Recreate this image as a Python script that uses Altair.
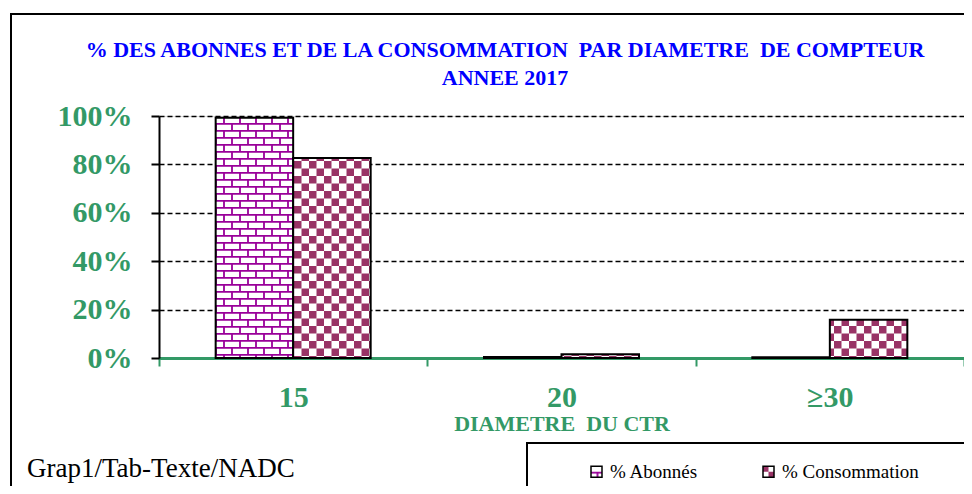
import altair as alt
import pandas as pd
import jinja2

# ---- data ----
categories = ["15", "20", "≥30"]
series = ["% Abonnés", "% Consommation"]
abonnes = [0.993, 0.004, 0.003]
consommation = [0.826, 0.016, 0.158]
title_lines = ["% DES ABONNES ET DE LA CONSOMMATION\u00a0 PAR DIAMETRE\u00a0 DE COMPTEUR",
               "ANNEE 2017"]
x_title = "DIAMETRE\u00a0 DU CTR"
source_note = "Grap1/Tab-Texte/NADC"

rows = []
for c, a, k in zip(categories, abonnes, consommation):
    rows.append({"diam": c, "serie": series[0], "val": a})
    rows.append({"diam": c, "serie": series[1], "val": k})
df = pd.DataFrame(rows)

GREEN = "#339966"
SERIF = "Liberation Serif"

bars = alt.Chart(df).mark_bar(stroke="black", strokeWidth=2).encode(
    x=alt.X("diam:N", sort=categories,
            scale=alt.Scale(paddingInner=0, paddingOuter=0),
            axis=alt.Axis(title=x_title, labelAngle=0,
                          labelFont=SERIF, labelFontSize=30, labelFontWeight="bold",
                          labelColor=GREEN, labelPadding=16,
                          domainColor=GREEN, domainWidth=3,
                          tickColor=GREEN, tickWidth=2, tickSize=8, tickBand="extent",
                          titleFont=SERIF, titleFontSize=22, titleFontWeight="bold",
                          titleColor=GREEN, titlePadding=1, grid=False)),
    xOffset=alt.XOffset("serie:N", sort=series,
                        scale=alt.Scale(paddingInner=0, paddingOuter=0.731)),
    y=alt.Y("val:Q", scale=alt.Scale(domain=[0, 1], nice=False),
            axis=alt.Axis(title=None, format=".0%", values=[0, 0.2, 0.4, 0.6, 0.8, 1.0],
                          labelFont=SERIF, labelFontSize=30, labelFontWeight="bold",
                          labelColor=GREEN, labelPadding=19,
                          domainColor="black", domainWidth=2,
                          tickColor="black", tickWidth=2, tickSize=8,
                          grid=True, gridColor="black", gridDash=[5, 3], gridWidth=1.3)),
    fill=alt.Fill("serie:N", sort=series,
                  scale=alt.Scale(domain=series, range=["url(#brick)", "url(#checker)"]),
                  legend=alt.Legend(title=None, orient="none", legendX=428, legendY=346,
                                    direction="horizontal", columns=2, columnPadding=60,
                                    symbolType="square", symbolSize=121,
                                    symbolStrokeColor="black", symbolStrokeWidth=1.5,
                                    labelFont=SERIF, labelFontSize=19, labelColor="black",
                                    labelOffset=4, padding=0)),
)

one = alt.Data(values=[{}])

frame = alt.Chart(one).mark_rect(fillOpacity=0, stroke="black", strokeWidth=2).encode(
    x=alt.value(-148), x2=alt.value(950), y=alt.value(-102), y2=alt.value(500))

legbox = alt.Chart(one).mark_rect(fillOpacity=0, stroke="black", strokeWidth=2).encode(
    x=alt.value(368), x2=alt.value(950), y=alt.value(327), y2=alt.value(500))

footer = alt.Chart(one).mark_text(font=SERIF, fontSize=27, color="black",
                                  align="left", baseline="alphabetic").encode(
    x=alt.value(-132), y=alt.value(361), text=alt.value(source_note))

title1 = alt.Chart(one).mark_text(font=SERIF, fontSize=22, fontWeight="bold", color="#0000FF",
                                  align="center", baseline="alphabetic").encode(
    x=alt.value(346), y=alt.value(-59), text=alt.value(title_lines[0]))

title2 = alt.Chart(one).mark_text(font=SERIF, fontSize=22, fontWeight="bold", color="#0000FF",
                                  align="center", baseline="alphabetic").encode(
    x=alt.value(346), y=alt.value(-31), text=alt.value(title_lines[1]))

chart = alt.layer(frame, bars, legbox, footer, title1, title2).properties(
    width=805, height=242,
    padding={"left": 151, "top": 108, "right": 0, "bottom": 128},
    autosize=alt.AutoSizeParams(type="none"),
).configure_view(stroke="#808080", strokeWidth=2
).configure_legend(labelFont=SERIF
).configure(background="white")

PATTERNS = """
<svg width="0" height="0" style="position:absolute">
<defs>
<pattern id="brick" patternUnits="userSpaceOnUse" width="16" height="14">
<rect width="16" height="14" fill="white"/>
<path d="M0 0.8H16 M0 7.8H16 M1 0V7.8 M9 7.8V14" stroke="#990099" stroke-width="1.8" fill="none"/>
</pattern>
<pattern id="checker" patternUnits="userSpaceOnUse" width="15" height="15">
<rect width="15" height="15" fill="white"/>
<rect width="7.5" height="7.5" fill="#993366"/>
<rect x="7.5" y="7.5" width="7.5" height="7.5" fill="#993366"/>
</pattern>
</defs>
</svg>
"""

TEMPLATE = jinja2.Template("""<!DOCTYPE html>
<html>
<head>
  <style>
    #{{ output_div }}.vega-embed { width: 100%; display: flex; }
  </style>
  <script type="text/javascript" src="{{ base_url }}/vega@{{ vega_version }}"></script>
  <script type="text/javascript" src="{{ base_url }}/vega-lite@{{ vegalite_version }}"></script>
  <script type="text/javascript" src="{{ base_url }}/vega-embed@{{ vegaembed_version }}"></script>
</head>
<body>
""" + PATTERNS + """
  <div id="{{ output_div }}"></div>
  <script>
    (function(vegaEmbed) {
      var spec = {{ spec }};
      var embedOpt = {{ embed_options }};
      const el = document.getElementById('{{ output_div }}');
      vegaEmbed("#{{ output_div }}", spec, embedOpt).catch(function(error) {
        el.innerHTML = '<div style="color:red;">' + error.message + '</div>';
      });
    })(vegaEmbed);
  </script>
</body>
</html>
""")

chart.save("out.html", embed_options={"renderer": "svg", "actions": False}, template=TEMPLATE)
